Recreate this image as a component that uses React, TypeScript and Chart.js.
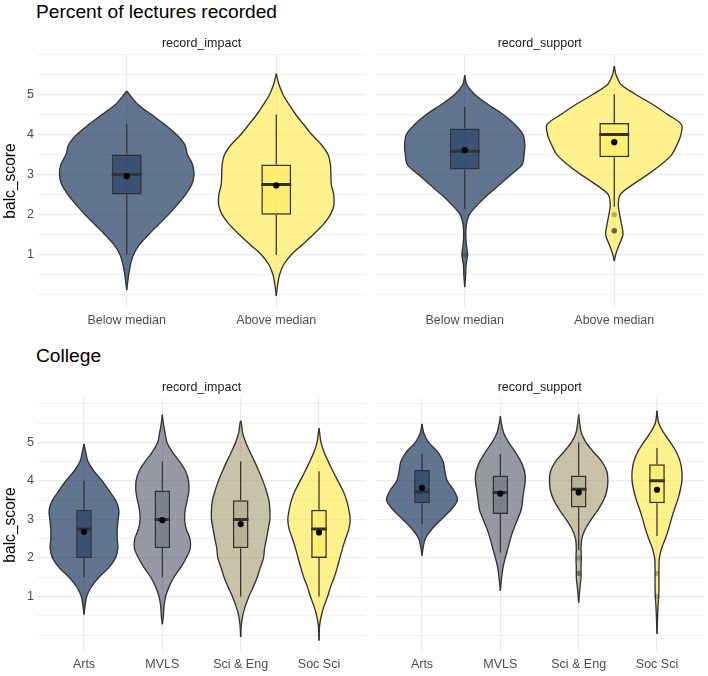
import React, { useEffect, useRef } from "react";
import { Chart, registerables } from "chart.js";

Chart.register(...registerables);

const FONT_FAMILY = '"Liberation Sans", Arial, Helvetica, sans-serif';
Chart.defaults.font.family = FONT_FAMILY;

// ---------- categories, ticks ----------
const lectureCategories = ["Below median", "Above median"];
const collegeCategories = ["Arts", "MVLS", "Sci & Eng", "Soc Sci"];
const yTickLabels = [1, 2, 3, 4, 5];
const yGridValues = [0, 0.5, 1, 1.5, 2, 2.5, 3, 3.5, 4, 4.5, 5, 5.5, 6];

const lectureColors = [
  [0, 32, 77],
  [255, 234, 70],
];
const collegeColors = [
  [0, 32, 77],
  [87, 92, 109],
  [166, 157, 117],
  [255, 234, 70],
];

// ---------- violin profiles: [balc_score, half width in category units] ----------
const lecImpactBelow: [number, number][] = [
  [0.12, 0], [0.5, 0.013], [0.75, 0.025], [1.0, 0.045], [1.25, 0.085], [1.5, 0.145],
  [1.75, 0.212], [2.0, 0.279], [2.25, 0.339], [2.5, 0.393], [2.75, 0.435], [3.0, 0.45],
  [3.25, 0.44], [3.5, 0.406], [3.75, 0.388], [4.0, 0.333], [4.25, 0.254], [4.5, 0.165],
  [4.75, 0.075], [5.0, 0.018], [5.09, 0],
];
const lecImpactAbove: [number, number][] = [
  [-0.03, 0], [0.25, 0.009], [0.5, 0.022], [0.75, 0.049], [1.0, 0.1], [1.25, 0.174],
  [1.5, 0.246], [1.75, 0.313], [2.0, 0.362], [2.25, 0.386], [2.5, 0.384], [2.75, 0.368],
  [3.0, 0.365], [3.25, 0.362], [3.5, 0.346], [3.75, 0.301], [4.0, 0.237], [4.25, 0.183],
  [4.5, 0.13], [4.75, 0.085], [5.0, 0.045], [5.25, 0.018], [5.52, 0],
];
const lecSupportBelow: [number, number][] = [
  [0.19, 0], [0.5, 0.006], [0.75, 0.009], [1.0, 0.019], [1.25, 0.011], [1.5, 0.007],
  [1.75, 0.011], [2.0, 0.031], [2.25, 0.087], [2.5, 0.156], [2.75, 0.234], [3.0, 0.31],
  [3.25, 0.384], [3.5, 0.397], [3.75, 0.402], [4.0, 0.39], [4.25, 0.335], [4.5, 0.257],
  [4.75, 0.156], [5.0, 0.067], [5.25, 0.013], [5.48, 0],
];
const lecSupportAbove: [number, number][] = [
  [0.84, 0], [1.0, 0.009], [1.25, 0.033], [1.5, 0.058], [1.75, 0.049], [2.0, 0.036],
  [2.25, 0.027], [2.5, 0.04], [2.75, 0.123], [3.0, 0.223], [3.25, 0.313], [3.5, 0.384],
  [3.75, 0.42], [4.0, 0.446], [4.25, 0.45], [4.5, 0.357], [4.75, 0.257], [5.0, 0.145],
  [5.25, 0.045], [5.5, 0.011], [5.71, 0],
];

const colImpactArts: [number, number][] = [
  [0.53, 0], [0.75, 0.013], [1.0, 0.034], [1.25, 0.093], [1.5, 0.191], [1.75, 0.318],
  [2.0, 0.402], [2.25, 0.432], [2.5, 0.424], [2.75, 0.424], [3.0, 0.436], [3.25, 0.445],
  [3.5, 0.402], [3.75, 0.318], [4.0, 0.233], [4.25, 0.127], [4.5, 0.051], [4.75, 0.021],
  [4.96, 0],
];
const colImpactMVLS: [number, number][] = [
  [0.28, 0], [0.5, 0.013], [0.75, 0.021], [1.0, 0.042], [1.25, 0.085], [1.5, 0.148],
  [1.75, 0.233], [2.0, 0.305], [2.25, 0.356], [2.5, 0.352], [2.75, 0.305], [3.0, 0.284],
  [3.25, 0.292], [3.5, 0.318], [3.75, 0.339], [4.0, 0.335], [4.25, 0.297], [4.5, 0.22],
  [4.75, 0.127], [5.0, 0.059], [5.25, 0.034], [5.5, 0.013], [5.72, 0],
];
const colImpactSciEng: [number, number][] = [
  [-0.05, 0], [0.25, 0.008], [0.5, 0.025], [0.75, 0.059], [1.0, 0.106], [1.25, 0.161],
  [1.5, 0.212], [1.75, 0.25], [2.0, 0.292], [2.25, 0.305], [2.5, 0.33], [2.75, 0.352],
  [3.0, 0.373], [3.25, 0.373], [3.5, 0.36], [3.75, 0.326], [4.0, 0.284], [4.25, 0.233],
  [4.5, 0.178], [4.75, 0.119], [5.0, 0.064], [5.25, 0.025], [5.5, 0.008], [5.56, 0],
];
const colImpactSocSci: [number, number][] = [
  [-0.14, 0], [0.25, 0.008], [0.5, 0.03], [0.75, 0.064], [1.0, 0.11], [1.25, 0.148],
  [1.5, 0.195], [1.75, 0.233], [2.0, 0.267], [2.25, 0.3], [2.5, 0.339], [2.75, 0.381],
  [3.0, 0.398], [3.25, 0.381], [3.5, 0.352], [3.75, 0.305], [4.0, 0.241], [4.25, 0.178],
  [4.5, 0.119], [4.75, 0.064], [5.0, 0.025], [5.25, 0.008], [5.36, 0],
];
const colSupportArts: [number, number][] = [
  [2.06, 0], [2.25, 0.013], [2.5, 0.042], [2.75, 0.127], [3.0, 0.246], [3.25, 0.37],
  [3.5, 0.453], [3.75, 0.407], [4.0, 0.322], [4.25, 0.292], [4.5, 0.27], [4.75, 0.2],
  [5.0, 0.085], [5.25, 0.021], [5.48, 0],
];
const colSupportMVLS: [number, number][] = [
  [1.15, 0], [1.5, 0.017], [1.75, 0.034], [2.0, 0.063], [2.25, 0.097], [2.5, 0.13],
  [2.75, 0.17], [3.0, 0.22], [3.25, 0.267], [3.5, 0.284], [3.75, 0.3], [4.0, 0.318],
  [4.25, 0.309], [4.5, 0.263], [4.75, 0.19], [5.0, 0.106], [5.25, 0.042], [5.5, 0.013],
  [5.68, 0],
];
const colSupportSciEng: [number, number][] = [
  [0.84, 0], [1.25, 0.017], [1.5, 0.03], [1.75, 0.03], [2.0, 0.034], [2.25, 0.03],
  [2.5, 0.04], [2.75, 0.085], [3.0, 0.16], [3.25, 0.246], [3.5, 0.318], [3.75, 0.36],
  [4.0, 0.373], [4.25, 0.36], [4.5, 0.296], [4.75, 0.19], [5.0, 0.093], [5.25, 0.034],
  [5.5, 0.013], [5.72, 0],
];
const colSupportSocSci: [number, number][] = [
  [0.03, 0], [0.5, 0.008], [0.75, 0.013], [1.0, 0.021], [1.25, 0.025], [1.5, 0.025],
  [1.75, 0.025], [2.0, 0.03], [2.25, 0.059], [2.5, 0.106], [2.75, 0.148], [3.0, 0.182],
  [3.25, 0.22], [3.5, 0.263], [3.75, 0.296], [4.0, 0.318], [4.25, 0.318], [4.5, 0.296],
  [4.75, 0.246], [5.0, 0.17], [5.25, 0.085], [5.5, 0.021], [5.82, 0],
];

// ---------- box stats: [lower whisker, Q1, median, Q3, upper whisker] ----------
const lecImpactBoxes = [
  [1.0, 2.5, 3.0, 3.5, 4.25],
  [1.0, 2.0, 2.75, 3.25, 4.5],
];
const lecImpactMeans = [2.96, 2.73];
const lecImpactOutliers: number[][] = [[], []];

const lecSupportBoxes = [
  [2.15, 3.13, 3.58, 4.15, 4.69],
  [2.2, 3.43, 4.0, 4.29, 5.0],
];
const lecSupportMeans = [3.61, 3.81];
const lecSupportOutliers: number[][] = [[1.0], [2.0, 1.6, 1.6, 1.6]];

const colImpactBoxes = [
  [1.5, 2.0, 2.75, 3.25, 4.0],
  [1.5, 2.25, 3.0, 3.75, 4.5],
  [1.0, 2.25, 3.0, 3.5, 4.5],
  [1.0, 2.0, 2.75, 3.25, 4.25],
];
const colImpactMeans = [2.68, 2.98, 2.88, 2.66];
const colImpactOutliers: number[][] = [[], [], [], []];

const colSupportBoxes = [
  [2.88, 3.42, 3.72, 4.28, 4.7],
  [2.14, 3.14, 3.7, 4.14, 4.7],
  [2.2, 3.31, 3.78, 4.14, 5.0],
  [2.57, 3.42, 4.0, 4.43, 4.85],
];
const colSupportMeans = [3.82, 3.67, 3.7, 3.77];
const colSupportOutliers: number[][] = [[], [], [2.0, 1.6, 1.6], [1.6, 1.0]];

// ---------- styling ----------
const OUTLINE = "rgb(51,51,51)";
const GRID = "#EBEBEB";
const TICK_COLOR = "#4D4D4D";

const rgba = (c: number[], a: number) => `rgba(${c[0]},${c[1]},${c[2]},${a})`;

interface PanelSpec {
  strip: string;
  categories: string[];
  colors: number[][];
  violins: [number, number][][];
  boxes: number[][];
  means: number[];
  outliers: number[][];
  yMin: number;
  yMax: number;
}

const panels: Record<string, PanelSpec> = {
  lecImpact: {
    strip: "record_impact", categories: lectureCategories, colors: lectureColors,
    violins: [lecImpactBelow, lecImpactAbove], boxes: lecImpactBoxes,
    means: lecImpactMeans, outliers: lecImpactOutliers, yMin: -0.33, yMax: 6.01,
  },
  lecSupport: {
    strip: "record_support", categories: lectureCategories, colors: lectureColors,
    violins: [lecSupportBelow, lecSupportAbove], boxes: lecSupportBoxes,
    means: lecSupportMeans, outliers: lecSupportOutliers, yMin: -0.33, yMax: 6.01,
  },
  colImpact: {
    strip: "record_impact", categories: collegeCategories, colors: collegeColors,
    violins: [colImpactArts, colImpactMVLS, colImpactSciEng, colImpactSocSci],
    boxes: colImpactBoxes, means: colImpactMeans, outliers: colImpactOutliers,
    yMin: -0.44, yMax: 6.15,
  },
  colSupport: {
    strip: "record_support", categories: collegeCategories, colors: collegeColors,
    violins: [colSupportArts, colSupportMVLS, colSupportSciEng, colSupportSocSci],
    boxes: colSupportBoxes, means: colSupportMeans, outliers: colSupportOutliers,
    yMin: -0.44, yMax: 6.15,
  },
};

function buildDatasets(spec: PanelSpec) {
  const datasets: any[] = [];
  const common = { xAxisID: "x", yAxisID: "y" };

  // violins: right edge + left edge, filled between
  spec.violins.forEach((profile, i) => {
    const cx = i + 1;
    datasets.push({
      ...common,
      type: "line",
      indexAxis: "y",
      data: profile.map(([y, w]) => ({ x: cx + w, y })),
      borderColor: OUTLINE,
      borderWidth: 1.35,
      pointRadius: 0,
      tension: 0.3,
      fill: false,
      order: 50,
    });
    datasets.push({
      ...common,
      type: "line",
      indexAxis: "y",
      data: profile.map(([y, w]) => ({ x: cx - w, y })),
      borderColor: OUTLINE,
      borderWidth: 1.35,
      pointRadius: 0,
      tension: 0.3,
      fill: "-1",
      backgroundColor: rgba(spec.colors[i], 0.62),
      order: 50,
    });
  });

  // whiskers
  const whiskers: any[] = [];
  spec.boxes.forEach((b, i) => {
    const cx = i + 1;
    whiskers.push(
      { x: cx, y: b[0] }, { x: cx, y: b[1] }, { x: cx, y: null },
      { x: cx, y: b[3] }, { x: cx, y: b[4] }, { x: cx, y: null }
    );
  });
  datasets.push({
    ...common,
    type: "line",
    data: whiskers,
    borderColor: OUTLINE,
    borderWidth: 1.25,
    pointRadius: 0,
    spanGaps: false,
    fill: false,
    order: 40,
  });

  // boxes (Q1..Q3)
  datasets.push({
    ...common,
    type: "bar",
    data: spec.boxes.map((b, i) => ({ x: i + 1, y: [b[1], b[3]] })),
    backgroundColor: spec.boxes.map((_, i) => rgba(spec.colors[i], 0.4)),
    borderColor: OUTLINE,
    borderWidth: 1.5,
    borderSkipped: false,
    categoryPercentage: 1,
    barPercentage: 0.2,
    order: 30,
  });

  // medians
  const medians: any[] = [];
  spec.boxes.forEach((b, i) => {
    const cx = i + 1;
    medians.push({ x: cx - 0.1, y: b[2] }, { x: cx + 0.1, y: b[2] }, { x: cx + 0.1, y: null });
  });
  datasets.push({
    ...common,
    type: "line",
    data: medians,
    borderColor: OUTLINE,
    borderWidth: 3,
    borderCapStyle: "butt",
    pointRadius: 0,
    spanGaps: false,
    fill: false,
    order: 20,
  });

  // outliers
  const outs: any[] = [];
  spec.outliers.forEach((vals, i) => vals.forEach((v) => outs.push({ x: i + 1, y: v })));
  datasets.push({
    ...common,
    type: "scatter",
    data: outs,
    backgroundColor: "rgba(51,51,51,0.35)",
    borderWidth: 0,
    pointRadius: 2.7,
    order: 15,
  });

  // means
  datasets.push({
    ...common,
    type: "scatter",
    data: spec.means.map((m, i) => ({ x: i + 1, y: m })),
    backgroundColor: "#000000",
    borderWidth: 0,
    pointRadius: 3.1,
    order: 10,
  });

  return datasets;
}

function buildConfig(spec: PanelSpec, showY: boolean): any {
  const n = spec.categories.length;
  const scales: any = {
    x: {
      type: "linear",
      min: 0.4,
      max: n + 0.6,
      offset: false,
      afterBuildTicks: (s: any) => {
        s.ticks = spec.categories.map((_, i) => ({ value: i + 1 }));
      },
      ticks: {
        callback: (v: any) => spec.categories[Math.round(v) - 1] ?? "",
        font: { size: 12.5, family: FONT_FAMILY },
        color: TICK_COLOR,
        padding: 5.2,
        autoSkip: false,
        maxRotation: 0,
        minRotation: 0,
      },
      grid: { color: GRID, lineWidth: 1.3, drawTicks: false, offset: false },
      border: { display: false },
      afterFit: (s: any) => {
        s.height = 30;
      },
    },
    y: {
      type: "linear",
      min: spec.yMin,
      max: spec.yMax,
      offset: false,
      afterBuildTicks: (s: any) => {
        s.ticks = yGridValues.map((v) => ({ value: v }));
      },
      ticks: {
        display: showY,
        callback: (v: any) => (yTickLabels.includes(v) ? String(v) : ""),
        font: { size: 12.5, family: FONT_FAMILY },
        color: TICK_COLOR,
        padding: 3,
      },
      grid: {
        color: GRID,
        drawTicks: false,
        offset: false,
        lineWidth: (ctx: any) =>
          ctx.tick && yTickLabels.includes(ctx.tick.value) ? 1.3 : 0.7,
      },
      border: { display: false },
      title: {
        display: showY,
        text: "balc_score",
        color: "#000000",
        font: { size: 15.6, family: FONT_FAMILY },
        padding: { top: 1.5, bottom: 0 },
      },
      afterFit: (s: any) => {
        s.width = showY ? 37 : 0;
      },
    },
  };
  if (showY) {
    scales.yPad = {
      axis: "y",
      type: "linear",
      position: "right",
      display: true,
      min: 0,
      max: 1,
      grid: { display: false, drawTicks: false },
      ticks: { display: false },
      border: { display: false },
      afterFit: (s: any) => {
        s.width = 37;
      },
    };
  }

  return {
    type: "line",
    data: { datasets: buildDatasets(spec) },
    options: {
      responsive: false,
      animation: false,
      events: [],
      layout: {
        padding: showY ? { left: 0, right: 0, top: 0, bottom: 0 } : { left: 5, right: 3.5, top: 0, bottom: 0 },
      },
      plugins: {
        legend: { display: false },
        tooltip: { enabled: false },
        title: {
          display: true,
          text: spec.strip,
          color: "#1A1A1A",
          font: { size: 12.5, weight: "normal", family: FONT_FAMILY, lineHeight: 1.2 },
          padding: { top: 7.8, bottom: 3.2 },
        },
      },
      scales,
    },
  };
}

function Panel(props: { spec: PanelSpec; showY: boolean; left: number; top: number; width: number; height: number }) {
  const ref = useRef<HTMLCanvasElement>(null);
  useEffect(() => {
    if (!ref.current) return;
    const chart = new Chart(ref.current, buildConfig(props.spec, props.showY));
    return () => chart.destroy();
  }, []);
  return (
    <canvas
      ref={ref}
      width={props.width}
      height={props.height}
      style={{ position: "absolute", left: props.left, top: props.top, width: props.width, height: props.height }}
    />
  );
}

const titleStyle: React.CSSProperties = {
  position: "absolute",
  left: 36,
  fontFamily: FONT_FAMILY,
  fontSize: 19.2,
  lineHeight: "19px",
  color: "#000000",
  whiteSpace: "nowrap",
};

export default function App() {
  const rowOffset = 344;
  return (
    <div
      style={{
        position: "fixed",
        left: 0,
        top: 0,
        width: 708,
        height: 676,
        background: "#ffffff",
        overflow: "hidden",
      }}
    >
      <div style={{ ...titleStyle, top: 2 }}>Percent of lectures recorded</div>
      <div style={{ ...titleStyle, top: 2 + rowOffset }}>College</div>
      <Panel spec={panels.lecImpact} showY={true} left={0} top={28} width={403} height={310} />
      <Panel spec={panels.lecSupport} showY={false} left={370} top={28} width={338} height={310} />
      <Panel spec={panels.colImpact} showY={true} left={0} top={28 + rowOffset} width={403} height={310} />
      <Panel spec={panels.colSupport} showY={false} left={370} top={28 + rowOffset} width={338} height={310} />
    </div>
  );
}
